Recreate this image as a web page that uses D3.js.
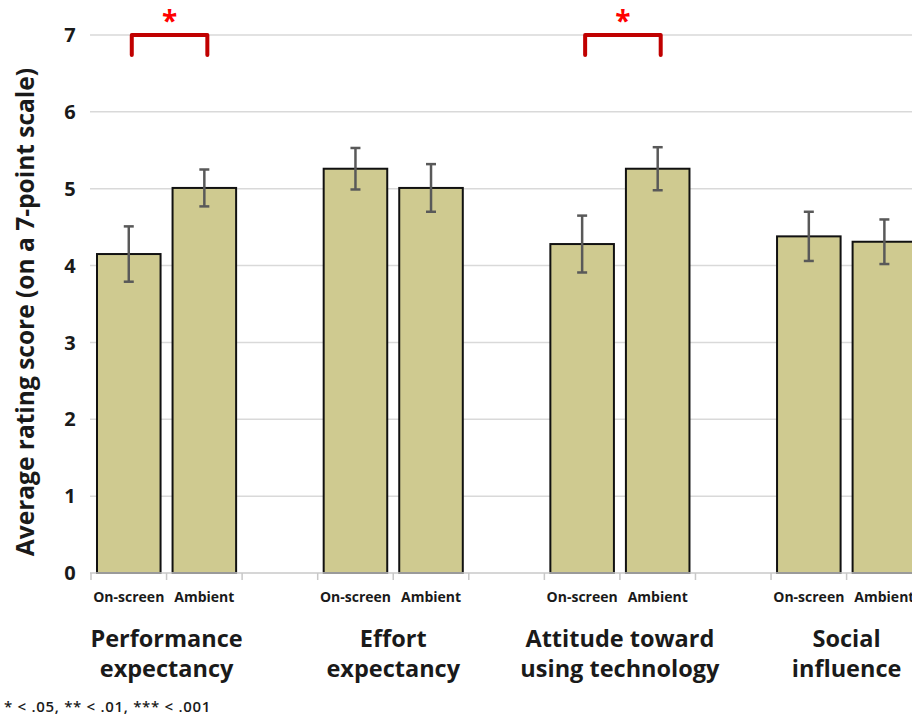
<!DOCTYPE html>
<html>
<head>
<meta charset="utf-8">
<script src="https://cdn.jsdelivr.net/npm/d3@7"></script>
<style>
  html, body { margin: 0; padding: 0; background: #fff; }
  svg { display: block; font-family: "Open Sans", "Noto Sans", sans-serif; }
</style>
</head>
<body>
<svg id="chart" width="912" height="718"></svg>
<script>
// Construct groups (each label split over two lines)
const groups = [
  ["Performance", "expectancy"],
  ["Effort", "expectancy"],
  ["Attitude toward", "using technology"],
  ["Social", "influence"]
];
const conditions = ["On-screen", "Ambient"];

// Mean ratings and error-bar half-lengths per construct
const onScreenMeans = [4.15, 5.26, 4.28, 4.38];
const ambientMeans  = [5.01, 5.01, 5.26, 4.31];
const onScreenErr   = [0.36, 0.27, 0.37, 0.32];
const ambientErr    = [0.24, 0.31, 0.28, 0.29];

// Significance marks between the two conditions
const significance = ["*", "", "*", ""];

const yTicks = [0, 1, 2, 3, 4, 5, 6, 7];
const yTitle = "Average rating score (on a 7-point scale)";
const footnote = "* < .05, ** < .01, *** < .001";

const svg = d3.select("#chart");

// Each construct takes three slots: two bars and a spacer
const slots = [];
groups.forEach((g, gi) => {
  conditions.forEach((c, ci) => slots.push({ id: gi + "-" + ci, group: gi, cond: c }));
  slots.push({ id: gi + "-gap", group: gi, cond: "" });
});

const slotW = 75.56;
const x = d3.scaleBand()
  .domain(slots.map(s => s.id))
  .range([91, 91 + slots.length * slotW])
  .paddingInner(0)
  .paddingOuter(0);

const y = d3.scaleLinear().domain([0, 7]).range([573, 35]);

const barPad = 6;
const barW = x.bandwidth() - 2 * barPad;

// Gridlines
svg.append("g")
  .selectAll("line")
  .data(yTicks.filter(t => t > 0))
  .join("line")
  .attr("x1", 90).attr("x2", 912)
  .attr("y1", d => y(d)).attr("y2", d => y(d))
  .attr("stroke", "#d9d9d9").attr("stroke-width", 1.5);

// Y tick labels
svg.append("g")
  .selectAll("text")
  .data(yTicks)
  .join("text")
  .attr("x", 70).attr("y", d => y(d))
  .attr("dy", "0.36em")
  .attr("text-anchor", "middle")
  .attr("font-size", 20).attr("font-weight", 700)
  .attr("fill", "#1a1a1a")
  .text(d => d);

// Y axis title
svg.append("text")
  .attr("transform", `translate(34, ${(y(0) + y(7)) / 2 + 8}) rotate(-90)`)
  .attr("text-anchor", "middle")
  .attr("font-size", 24.5).attr("font-weight", 700)
  .attr("fill", "#1a1a1a")
  .text(yTitle);

// Bars
const bars = [];
groups.forEach((g, gi) => {
  bars.push({ id: gi + "-0", v: onScreenMeans[gi], e: onScreenErr[gi] });
  bars.push({ id: gi + "-1", v: ambientMeans[gi], e: ambientErr[gi] });
});

svg.append("g")
  .selectAll("rect")
  .data(bars)
  .join("rect")
  .attr("x", d => x(d.id) + barPad)
  .attr("y", d => y(d.v))
  .attr("width", barW)
  .attr("height", d => y(0) - y(d.v))
  .attr("fill", "#cfca90")
  .attr("stroke", "#111")
  .attr("stroke-width", 2);

// Error bars
const eb = svg.append("g").attr("stroke", "#595959").attr("stroke-width", 2.5);
bars.forEach(d => {
  const cx = x(d.id) + x.bandwidth() / 2;
  eb.append("line").attr("x1", cx).attr("x2", cx).attr("y1", y(d.v + d.e)).attr("y2", y(d.v - d.e));
  eb.append("line").attr("x1", cx - 5).attr("x2", cx + 5).attr("y1", y(d.v + d.e)).attr("y2", y(d.v + d.e));
  eb.append("line").attr("x1", cx - 5).attr("x2", cx + 5).attr("y1", y(d.v - d.e)).attr("y2", y(d.v - d.e));
});

// X axis baseline and slot ticks
const axis = svg.append("g").attr("stroke", "#c8c8c8").attr("stroke-width", 1.5);
axis.append("line").attr("x1", 90).attr("x2", 912).attr("y1", y(0)).attr("y2", y(0));
slots.forEach(s => {
  const xx = x(s.id);
  axis.append("line").attr("x1", xx).attr("x2", xx).attr("y1", y(0)).attr("y2", y(0) + 7);
});

// Condition labels
svg.append("g")
  .selectAll("text")
  .data(slots.filter(s => s.cond))
  .join("text")
  .attr("x", d => x(d.id) + x.bandwidth() / 2)
  .attr("y", 602)
  .attr("text-anchor", "middle")
  .attr("font-size", 14).attr("font-weight", 700)
  .attr("fill", "#1a1a1a")
  .text(d => d.cond);

// Construct labels, centred under their two bars
groups.forEach((g, gi) => {
  const cx = x(gi + "-1");
  const t = svg.append("text")
    .attr("text-anchor", "middle")
    .attr("font-size", 23.5).attr("font-weight", 700)
    .attr("fill", "#1a1a1a");
  g.forEach((line, li) => {
    t.append("tspan").attr("x", cx).attr("y", 647 + li * 30).text(line);
  });
});

// Significance brackets
groups.forEach((g, gi) => {
  if (!significance[gi]) return;
  const x1 = x(gi + "-0") + x.bandwidth() / 2 + 3;
  const x2 = x(gi + "-1") + x.bandwidth() / 2 + 3;
  svg.append("path")
    .attr("d", `M${x1},${y(6.74)} V${y(7)} H${x2} V${y(6.74)}`)
    .attr("fill", "none")
    .attr("stroke", "#c00000")
    .attr("stroke-width", 4)
    .attr("stroke-linecap", "round")
    .attr("stroke-linejoin", "round");
  svg.append("text")
    .attr("x", (x1 + x2) / 2)
    .attr("y", y(7) - 4)
    .attr("text-anchor", "middle")
    .attr("font-size", 28).attr("font-weight", 700)
    .attr("fill", "#ff0000")
    .text(significance[gi]);
});

// Footnote
svg.append("text")
  .attr("x", 4).attr("y", 712)
  .attr("font-size", 15).attr("font-weight", 600)
  .attr("letter-spacing", 0.7)
  .attr("fill", "#1a1a1a")
  .text(footnote);
</script>
</body>
</html>
